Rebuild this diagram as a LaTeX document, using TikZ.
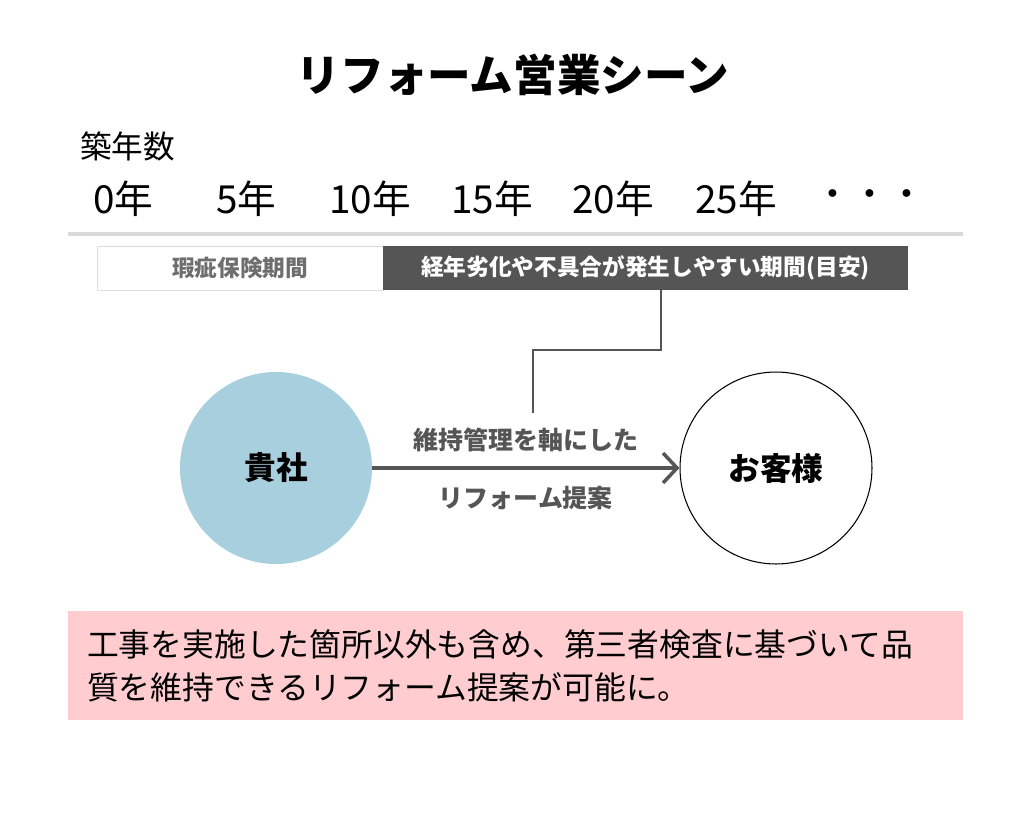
\documentclass[tikz,border=0pt]{standalone}
\usepackage{fontspec}
\setmainfont{Noto Sans CJK JP}
\usetikzlibrary{arrows.meta, positioning}

\definecolor{bargray}{HTML}{555555}
\definecolor{framegray}{HTML}{DDDDDD}
\definecolor{rulegray}{HTML}{DADADA}
\definecolor{labelgray}{HTML}{6E6E6E}
\definecolor{partnerblue}{HTML}{A8CFDD}
\definecolor{notepink}{HTML}{FFCDD0}

\tikzset{
	yearlabel/.style={anchor=west, inner sep=0pt, font=\fontsize{22}{26}\selectfont},
	period/.style={minimum height=0.88cm, inner sep=0pt, font=\fontsize{12.9}{15}\selectfont\bfseries},
	party/.style={circle, minimum size=3.84cm, inner sep=0pt, font=\fontsize{18}{22}\selectfont\bfseries},
	proposal/.style={text=bargray, font=\fontsize{14.2}{17}\selectfont\bfseries},
	link/.style={draw=bargray, line width=1.1pt},
}

\begin{document}
\begin{tikzpicture}[x=0.02cm, y=-0.02cm]
	\useasboundingbox (0, 0) rectangle (1024, 818);

	\node (title) at (513, 75) [font=\fontsize{24.8}{29}\selectfont\bfseries] {リフォーム営業シーン};

	% age axis
	\node (age) at (80, 146) [anchor=west, inner sep=0pt, font=\fontsize{18}{22}\selectfont] {築年数};
	\node (y0) at (93, 199) [yearlabel] {0年};
	\node (y5) at (216, 199) [yearlabel] {5年};
	\node (y10) at (329, 199) [yearlabel] {10年};
	\node (y15) at (451, 199) [yearlabel] {15年};
	\node (y20) at (572, 199) [yearlabel] {20年};
	\node (y25) at (695, 199) [yearlabel] {25年};
	\node (more) at (870, 199) [inner sep=0pt, font=\fontsize{21}{25}\selectfont] {・・・};

	\draw [rulegray, line width=2.3pt] (68, 234) -- (963, 234);

	% periods
	\node (warranty) at (240, 268) [period, draw=framegray, line width=0.5pt, minimum width=5.72cm, text=labelgray] {瑕疵保険期間};
	\node (aging) at (645.5, 268) [period, fill=bargray, minimum width=10.5cm, text=white] {経年劣化や不具合が発生しやすい期間(目安)};

	\coordinate (tip) at (533, 413);
	\draw [link] (aging.south -| 661, 0) -- ++(0, 60) -| (tip);

	% parties
	\node (company) at (276, 468) [party, fill=partnerblue] {貴社};
	\node (client) at (776, 468) [party, draw=black, line width=0.6pt] {お客様};

	\draw [bargray, line width=2pt, -{Straight Barb[length=8pt, width=17pt, line width=2pt]}] (company) -- (client)
		node [proposal, pos=0.5, above=5pt] {維持管理を軸にした}
		node [proposal, pos=0.5, below=6pt] {リフォーム提案};

	% note
	\node (note) at (515.5, 665.5) [fill=notepink, minimum width=17.9cm, minimum height=2.18cm, inner xsep=0.38cm,
		text width=17.14cm, align=left, font=\fontsize{18.1}{24.5}\selectfont]
		{工事を実施した箇所以外も含め、第三者検査に基づいて品\\質を維持できるリフォーム提案が可能に。};
\end{tikzpicture}
\end{document}
